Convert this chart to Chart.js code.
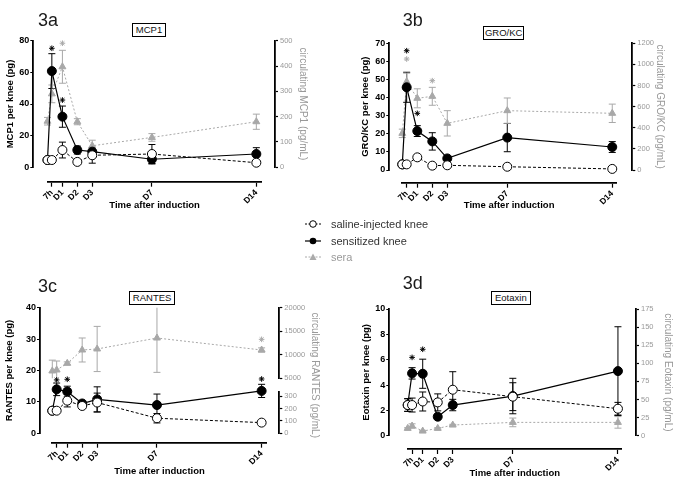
<!DOCTYPE html>
<html>
<head>
<meta charset="utf-8">
<script src="https://cdn.jsdelivr.net/npm/chart.js@4.4.1/dist/chart.umd.min.js"></script>
<style>
  body { margin: 0; background: #fff; }
  #page { position: relative; width: 685px; height: 488px; overflow: hidden; font-family: 'Liberation Sans', Arial, sans-serif; }
  canvas { position: absolute; }
  .panel-id { position: absolute; font-size: 18px; line-height: 18px; color: #1a1a1a; }
  .tag { position: absolute; box-sizing: border-box; border: 1.5px solid #000; height: 14px; font-size: 9.5px; line-height: 11px; text-align: center; color: #111; background: #fff; }
  #legend { position: absolute; left: 305px; top: 216px; font-size: 11px; color: #333; }
  #legend .row { height: 16.5px; display: flex; align-items: center; }
  #legend svg { width: 16px; height: 10px; margin-right: 10px; }
</style>
</head>
<body>
<div id="page">
  <canvas id="chartA"></canvas>
  <canvas id="chartB"></canvas>
  <canvas id="chartC"></canvas>
  <canvas id="chartD"></canvas>

  <div class="panel-id" style="left:38px; top:11px;">3a</div>
  <div class="panel-id" style="left:402.7px; top:11px;">3b</div>
  <div class="panel-id" style="left:38px; top:276.6px;">3c</div>
  <div class="panel-id" style="left:402.7px; top:274.3px;">3d</div>

  <div class="tag" style="left:132.3px; top:23.3px; width:33.4px;">MCP1</div>
  <div class="tag" style="left:483.3px; top:26px; width:40.7px;">GRO/KC</div>
  <div class="tag" style="left:129.3px; top:291px; width:45.7px;">RANTES</div>
  <div class="tag" style="left:490.7px; top:291px; width:40.3px;">Eotaxin</div>

  <div id="legend">
    <div class="row">
      <svg viewBox="0 0 16 10"><line x1="0" y1="5" x2="16" y2="5" stroke="#000" stroke-width="1" stroke-dasharray="2,1.5"/><circle cx="8" cy="5" r="3.3" fill="#fff" stroke="#000" stroke-width="1"/></svg>
      <span>saline-injected knee</span>
    </div>
    <div class="row">
      <svg viewBox="0 0 16 10"><line x1="0" y1="5" x2="16" y2="5" stroke="#000" stroke-width="1.2"/><circle cx="8" cy="5" r="3.3" fill="#000"/></svg>
      <span>sensitized knee</span>
    </div>
    <div class="row">
      <svg viewBox="0 0 16 10"><line x1="0" y1="5" x2="16" y2="5" stroke="#aaa" stroke-width="1" stroke-dasharray="2,1.5"/><polygon points="8,1.5 11.5,8 4.5,8" fill="#aaa"/></svg>
      <span style="color:#9a9a9a;">sera</span>
    </div>
  </div>
</div>

<script>
// Time points in days (0 = baseline, 7h = 7/24 day)
const timeDays = [0, 7 / 24, 1, 2, 3, 7, 14];
const tickDays = [7 / 24, 1, 2, 3, 7, 14];
const tickLabels = ['7h', 'D1', 'D2', 'D3', 'D7', 'D14'];

// 3a MCP1
const mcp1Saline = [4.6, 4.6, 10.9, 3.4, 7.6, 8.4, 2.9];
const mcp1SalineSem = [0.5, 0.5, 5, 0.5, 5, 6, 1];
const mcp1Sensitized = [4.6, 60.8, 32, 10.9, 9.9, 5.1, 8.4];
const mcp1SensitizedSem = [0.5, 11, 6.7, 2.5, 1.5, 3, 4];
const mcp1Sera = [182, 290, 397, 180, 85, 118, 180];
const mcp1SeraSem = [15, 35, 65, 12, 22, 15, 30];
const mcp1StarsKnee = [null, 75.2, 42.5, null, null, null, null];
const mcp1StarsSera = [null, null, 490, null, null, null, null];

// 3b GRO/KC
const groSaline = [3.1, 3.1, 7.0, 2.4, 2.6, 1.8, 0.6];
const groSalineSem = [0.3, 0.3, 1, 0.3, 0.3, 0.3, 0.3];
const groSensitized = [3.1, 45.7, 21.5, 15.8, 6.4, 17.9, 12.7];
const groSensitizedSem = [0.3, 8.3, 3, 4.8, 1, 7.8, 3];
const groSera = [347, 837, 679, 698, 442, 562, 537];
const groSeraSem = [40, 80, 90, 85, 120, 120, 87];
const groStarsKnee = [null, 65.9, 31.3, null, null, null, null];
const groStarsSera = [null, 1051, null, 846, null, null, null];

// 3c RANTES
const rantesSaline = [7.2, 7.2, 10.4, 8.7, 9.8, 4.8, 3.4];
const rantesSalineSem = [0.3, 0.3, 2, 0.7, 3, 1.5, 0.3];
const rantesSensitized = [7.2, 14.0, 13.3, 9.5, 10.8, 9.0, 13.5];
const rantesSensitizedSem = [0.3, 2, 1.7, 0.5, 4, 3.5, 2.1];
const rantesSera = [6560, 6770, 8180, 11015, 11230, 13560, 11015];
const rantesSeraSem = [2300, 1900, 300, 2550, 4800, 7300, 450];
const rantesStarsKnee = [null, 17.0, 17.2, null, null, null, 17.3];
const rantesStarsSera = [null, null, null, null, null, null, 13280];

// 3d Eotaxin
const eotaxinSaline = [2.42, 2.42, 2.7, 2.63, 3.63, 3.08, 2.13];
const eotaxinSalineSem = [0.5, 0.55, 0.75, 0.67, 1.42, 1.1, 0.5];
const eotaxinSensitized = [2.42, 4.92, 4.89, 1.5, 2.42, 3.13, 5.1];
const eotaxinSensitizedSem = [0.5, 0.45, 1.15, 0.2, 0.45, 1.4, 3.5];
const eotaxinSera = [10.1, 13.4, 6.4, 10.1, 14.7, 18.4, 18.4];
const eotaxinSeraSem = [1, 3, 1, 1, 1, 6, 8];
const eotaxinStarsKnee = [null, 6.18, 6.82, null, null, null, null];
const eotaxinStarsSera = [null, null, null, null, null, null, null];

const GRAY = '#a8a8a8';
const FONT = "'Liberation Sans', Arial, sans-serif";
const AXIS_W = 1.8;

// Page geometry of every panel (axis lines, offsets, titles)
const panelGeom = {
    a: { canvas: [0, 0, 342, 232], axisL: 33.3, top: 40.7, zero: 167.3, xAxis: 181.7, axisR: 275, x0: 47.5, xEnd: 261.7, xMax: 14.36, titleL: 10, titleR: 303, titleB: 205 },
    b: { canvas: [342, 0, 343, 232], axisL: 389.3, top: 43.3, zero: 170, xAxis: 182.7, axisR: 632.3, x0: 402.3, xEnd: 616, xMax: 14.25, titleL: 365, titleR: 660, titleB: 205 },
    c: { canvas: [0, 250, 342, 238], axisL: 40, top: 307.7, zero: 433.3, xAxis: 442.7, axisR: 279.3, x0: 52.3, xEnd: 266.7, xMax: 14.34, titleL: 9.3, titleR: 315, titleB: 471.7, upperBottom: 378.3, lowerTop: 391.7, rightStackW: 27 },
    d: { canvas: [342, 250, 343, 238], axisL: 389.3, top: 309, zero: 435.7, xAxis: 449, axisR: 636, x0: 407.7, xEnd: 621.7, xMax: 14.25, titleL: 366, titleR: 668, titleB: 473.3 }
};

// Error bars (SEM) drawn through each dataset's own y scale
const errorBarsPlugin = {
    id: 'errorBars',
    beforeDatasetsDraw(chart) {
        const ctx = chart.ctx;
        chart.data.datasets.forEach((ds, i) => {
            if (!ds.errors) return;
            const meta = chart.getDatasetMeta(i);
            const yScale = chart.scales[ds.yAxisID];
            ctx.save();
            ctx.setLineDash([]);
            ctx.strokeStyle = ds.borderColor;
            ctx.lineWidth = 1;
            meta.data.forEach((pt, j) => {
                const v = ds.data[j].y;
                const e = ds.errors[j];
                if (!e) return;
                const yTop = yScale.getPixelForValue(v + e);
                const yBot = yScale.getPixelForValue(v - e);
                ctx.beginPath();
                ctx.moveTo(pt.x, Math.max(yTop, yScale.top));
                ctx.lineTo(pt.x, Math.min(yBot, yScale.bottom));
                if (yTop >= yScale.top) { ctx.moveTo(pt.x - 3.5, yTop); ctx.lineTo(pt.x + 3.5, yTop); }
                if (yBot <= yScale.bottom) { ctx.moveTo(pt.x - 3.5, yBot); ctx.lineTo(pt.x + 3.5, yBot); }
                ctx.stroke();
            });
            ctx.restore();
        });
    }
};

function toPoints(vals) {
    return timeDays.map((t, i) => ({ x: t, y: vals[i] }));
}

function toStars(vals) {
    return timeDays.map((t, i) => ({ x: t, y: vals[i] })).filter(p => p.y !== null);
}

// Invisible axis used only to take space in an axis stack
function spacer(position, extra) {
    return Object.assign({
        type: 'linear', position: position, display: true,
        border: { display: false },
        grid: { display: false, drawTicks: false },
        ticks: { display: false },
        title: { display: false }
    }, extra);
}

// Visible right axis (gray labels)
function rightAxis(min, max, step, extra) {
    return Object.assign({
        type: 'linear', position: 'right', min: min, max: max,
        border: { color: '#000', width: AXIS_W },
        grid: { display: true, drawOnChartArea: false, drawTicks: true, tickLength: 3, tickColor: '#000', tickWidth: 1.2 },
        ticks: { stepSize: step, includeBounds: false, autoSkip: false, color: '#999', padding: 2, font: { family: FONT, size: 7.5 }, callback: v => String(v) },
        title: { display: false }
    }, extra);
}

function rightTitle(text) {
    return { display: true, text: text, color: '#999', padding: { top: 0, bottom: 0 }, font: { family: FONT, size: 10 } };
}

function buildPanel(canvasId, g, cfg) {
    const canvas = document.getElementById(canvasId);
    const [cl, ct, cw, ch] = g.canvas;
    canvas.width = cw;
    canvas.height = ch;
    canvas.style.left = cl + 'px';
    canvas.style.top = ct + 'px';

    const lhAxis = 9.5 * 1.2;
    const lhRight = 10 * 1.2;
    const leftW = g.axisL - cl - 2;
    const rightBoxRight = g.titleR + lhRight / 2;
    const bottomBoxBottom = g.titleB + lhAxis / 2;
    const bottomH = bottomBoxBottom - g.xAxis;
    const fitBottom = s => { s.height = bottomH; };
    const fitLeft = s => { s.width = leftW; };

    const scales = {
        xl: spacer('bottom', { stack: 'B', stackWeight: g.x0 - g.axisL, weight: 0, afterFit: fitBottom }),
        x: {
            type: 'linear', position: 'bottom', min: 0, max: g.xMax,
            stack: 'B', stackWeight: g.xEnd - g.x0, weight: 1,
            border: { color: '#000', width: AXIS_W },
            grid: { display: true, drawOnChartArea: false, drawTicks: true, tickLength: 5, tickColor: '#000', tickWidth: 1.2 },
            afterBuildTicks: s => { s.ticks = tickDays.map(v => ({ value: v })); },
            ticks: {
                autoSkip: false, minRotation: 45, maxRotation: 45, padding: 1, color: '#000',
                font: { family: FONT, size: 8.5, weight: 'bold' },
                callback: (v, i) => tickLabels[i]
            },
            title: { display: true, text: 'Time after induction', color: '#000', padding: { top: 0, bottom: 0 }, font: { family: FONT, size: 9.5, weight: 'bold' } },
            afterFit: fitBottom
        },
        xr: spacer('bottom', { stack: 'B', stackWeight: g.axisR - g.xEnd, weight: 2, afterFit: fitBottom }),
        y: {
            type: 'linear', position: 'left', min: 0, max: cfg.yMax,
            stack: 'L', stackWeight: g.zero - g.top, weight: 1,
            border: { color: '#000', width: AXIS_W },
            grid: { display: true, drawOnChartArea: false, drawTicks: true, tickLength: 3, tickColor: '#000', tickWidth: 1.2 },
            ticks: { stepSize: cfg.yStep, includeBounds: false, autoSkip: false, color: '#000', padding: 1, font: { family: FONT, size: 9, weight: 'bold' } },
            title: { display: true, text: cfg.yTitle, color: '#000', padding: { top: g.titleL - cl - 2 - lhAxis / 2, bottom: 0 }, font: { family: FONT, size: 9.5, weight: 'bold' } },
            afterFit: fitLeft
        },
        yb: spacer('left', { stack: 'L', stackWeight: g.xAxis - g.zero, weight: 0, afterFit: fitLeft })
    };

    if (cfg.rightBreak) {
        // Broken right axis: upper segment, gap, lower segment, offset, then a title-only axis
        const rb = cfg.rightBreak;
        const fitStack = s => { s.width = g.rightStackW; };
        scales.y2 = rightAxis(rb.upper[0], rb.upper[1], rb.upper[2], {
            stack: 'R', stackWeight: g.upperBottom - g.top, weight: 0, afterFit: fitStack
        });
        scales.y2g = spacer('right', { stack: 'R', stackWeight: g.lowerTop - g.upperBottom, weight: 1, afterFit: fitStack });
        scales.y2l = rightAxis(0, rb.lowerMax, rb.lowerStep, {
            stack: 'R', stackWeight: g.zero - g.lowerTop, weight: 2, afterFit: fitStack
        });
        scales.y2b = spacer('right', { stack: 'R', stackWeight: g.xAxis - g.zero, weight: 3, afterFit: fitStack });
        scales.y2t = spacer('right', {
            weight: 10,
            title: rightTitle(cfg.y2Title),
            afterFit: s => { s.width = rightBoxRight - g.axisR - g.rightStackW; }
        });
    } else {
        const fitRight = s => { s.width = rightBoxRight - g.axisR; };
        scales.y2 = rightAxis(0, cfg.y2Max, cfg.y2Step, {
            stack: 'R', stackWeight: g.zero - g.top, weight: 0,
            title: rightTitle(cfg.y2Title),
            afterFit: fitRight
        });
        scales.y2b = spacer('right', { stack: 'R', stackWeight: g.xAxis - g.zero, weight: 1, afterFit: fitRight });
    }

    const datasets = [
        {
            label: 'saline-injected knee', type: 'line', data: toPoints(cfg.saline), errors: cfg.salineSem,
            borderColor: '#000', borderWidth: 1, borderDash: [3, 2],
            pointStyle: 'circle', pointRadius: 4.5, pointBackgroundColor: '#fff', pointBorderColor: '#000', pointBorderWidth: 1,
            xAxisID: 'x', yAxisID: 'y', clip: false
        },
        {
            label: 'sensitized knee', type: 'line', data: toPoints(cfg.sensitized), errors: cfg.sensitizedSem,
            borderColor: '#000', borderWidth: 1.2,
            pointStyle: 'circle', pointRadius: 4.5, pointBackgroundColor: '#000', pointBorderColor: '#000', pointBorderWidth: 1,
            xAxisID: 'x', yAxisID: 'y', clip: false
        },
        {
            label: 'sera', type: 'line', data: toPoints(cfg.sera), errors: cfg.seraSem,
            borderColor: GRAY, borderWidth: 1, borderDash: [2, 2],
            pointStyle: 'triangle', pointRadius: 4, pointBackgroundColor: GRAY, pointBorderColor: GRAY, pointBorderWidth: 1,
            xAxisID: 'x', yAxisID: 'y2', clip: false
        },
        {
            label: 'knee significance', type: 'scatter', data: toStars(cfg.starsKnee),
            pointStyle: 'star', pointRadius: 2.8, pointBorderColor: '#000', pointBorderWidth: 1,
            xAxisID: 'x', yAxisID: 'y', clip: false
        },
        {
            label: 'sera significance', type: 'scatter', data: toStars(cfg.starsSera),
            pointStyle: 'star', pointRadius: 2.8, pointBorderColor: GRAY, pointBorderWidth: 1,
            xAxisID: 'x', yAxisID: 'y2', clip: false
        }
    ];

    return new Chart(canvas, {
        type: 'line',
        data: { datasets: datasets },
        options: {
            responsive: false,
            animation: false,
            events: [],
            layout: {
                autoPadding: false,
                padding: { left: 2, top: g.top - ct, right: cl + cw - rightBoxRight, bottom: ct + ch - bottomBoxBottom }
            },
            plugins: { legend: { display: false }, tooltip: { enabled: false } },
            scales: scales
        },
        plugins: [errorBarsPlugin]
    });
}

buildPanel('chartA', panelGeom.a, {
    yMax: 80, yStep: 20, yTitle: 'MCP1 per knee (pg)',
    y2Max: 500, y2Step: 100, y2Title: 'circulating MCP1 (pg/mL)',
    saline: mcp1Saline, salineSem: mcp1SalineSem,
    sensitized: mcp1Sensitized, sensitizedSem: mcp1SensitizedSem,
    sera: mcp1Sera, seraSem: mcp1SeraSem,
    starsKnee: mcp1StarsKnee, starsSera: mcp1StarsSera
});

buildPanel('chartB', panelGeom.b, {
    yMax: 70, yStep: 10, yTitle: 'GRO/KC per knee (pg)',
    y2Max: 1200, y2Step: 200, y2Title: 'circulating GRO/KC (pg/mL)',
    saline: groSaline, salineSem: groSalineSem,
    sensitized: groSensitized, sensitizedSem: groSensitizedSem,
    sera: groSera, seraSem: groSeraSem,
    starsKnee: groStarsKnee, starsSera: groStarsSera
});

buildPanel('chartC', panelGeom.c, {
    yMax: 40, yStep: 10, yTitle: 'RANTES per knee (pg)',
    rightBreak: { upper: [5000, 20000, 5000], lowerMax: 337, lowerStep: 100 },
    y2Title: 'circulating RANTES (pg/mL)',
    saline: rantesSaline, salineSem: rantesSalineSem,
    sensitized: rantesSensitized, sensitizedSem: rantesSensitizedSem,
    sera: rantesSera, seraSem: rantesSeraSem,
    starsKnee: rantesStarsKnee, starsSera: rantesStarsSera
});

buildPanel('chartD', panelGeom.d, {
    yMax: 10, yStep: 2, yTitle: 'Eotaxin per knee (pg)',
    y2Max: 175, y2Step: 25, y2Title: 'circulating Eotaxin (pg/mL)',
    saline: eotaxinSaline, salineSem: eotaxinSalineSem,
    sensitized: eotaxinSensitized, sensitizedSem: eotaxinSensitizedSem,
    sera: eotaxinSera, seraSem: eotaxinSeraSem,
    starsKnee: eotaxinStarsKnee, starsSera: eotaxinStarsSera
});
</script>
</body>
</html>
